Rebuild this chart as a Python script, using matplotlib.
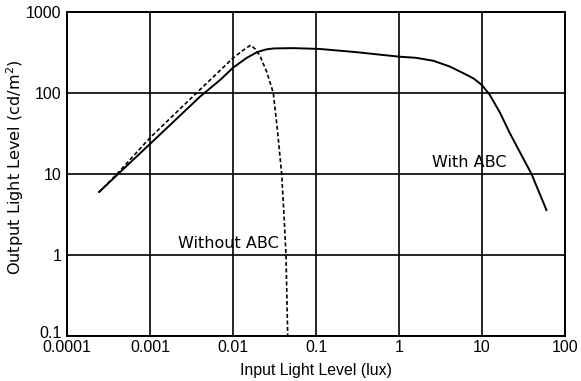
import matplotlib
matplotlib.use("Agg")
import matplotlib.pyplot as plt
from matplotlib.transforms import ScaledTranslation

# With ABC (solid)
with_x = [2.4e-4, 4e-4, 0.001, 0.004, 0.007, 0.01, 0.0145, 0.0196, 0.025, 0.031, 0.053,
          0.11, 0.3, 1.0, 1.6, 2.59, 4.1, 6.5, 8.0, 10.0, 12.3, 16.5, 21.6, 28.7, 39.5, 60.4]
with_y = [5.9, 9.7, 23.5, 90, 145, 205, 270, 320, 345, 355, 358,
          350, 320, 281, 272, 250, 212, 168, 150, 125, 96, 57, 32, 18.5, 10, 3.5]

# Without ABC (dashed)
without_x = [2.4e-4, 4e-4, 0.001, 0.004, 0.01, 0.013, 0.0163, 0.0185, 0.0211, 0.0256,
             0.0306, 0.0342, 0.0386, 0.0411, 0.0435, 0.0456]
without_y = [5.9, 10.0, 28.0, 110, 270, 333, 390, 350, 289, 180,
             100, 36, 10, 3.18, 1.0, 0.1]

x_ticks = [0.0001, 0.001, 0.01, 0.1, 1, 10, 100]
x_labels = ["0.0001", "0.001", "0.01", "0.1", "1", "10", "100"]
y_ticks = [0.1, 1, 10, 100, 1000]
y_labels = ["0.1", "1", "10", "100", "1000"]

plt.rcParams['font.family'] = ['Liberation Sans', 'DejaVu Sans']

fig = plt.figure(figsize=(5.81, 3.81), dpi=100)
ax = fig.add_axes([67/581, 1 - 336/381, (565-67)/581, (336-12)/381])

ax.plot(with_x, with_y, color='black', lw=1.4, solid_capstyle='butt', solid_joinstyle='round')
ax.plot(without_x, without_y, color='black', lw=1.2, linestyle=(0, (2.4, 1.5)))

ax.set_xscale('log')
ax.set_yscale('log')
ax.set_xlim(1e-4, 100)
ax.set_ylim(0.1, 1000)
ax.set_xticks(x_ticks)
ax.set_xticklabels(x_labels)
ax.set_yticks(y_ticks)
ax.set_yticklabels(y_labels)
ax.minorticks_off()
ax.tick_params(length=0, labelsize=11.5, colors='black')
ax.tick_params(axis='x', pad=3)
ax.tick_params(axis='y', pad=4)
ax.grid(True, which='major', color='black', lw=1.2)
for s in ax.spines.values():
    s.set_linewidth(1.4)
    s.set_color('black')

# lift the bottom y label slightly, as in the reference
lab0 = ax.get_yticklabels()[0]
lab0.set_transform(lab0.get_transform() + ScaledTranslation(0, 4/100, fig.dpi_scale_trans))

ax.set_xlabel("Input Light Level (lux)", fontsize=11.4, labelpad=6)
ylab = ax.set_ylabel("Output Light Level (cd/m$^2$)", fontsize=11.6,
                     family=['DejaVu Sans'], va='center', ha='center')
ax.yaxis.set_label_coords((15 - 67) / 498, (336 - 167) / 324)

ax.text(0.0022, 1.4, "Without ABC", fontsize=11.5, va='center', ha='left',
        family=['DejaVu Sans'])
ax.text(2.5, 13.7, "With ABC", fontsize=11.5, va='center', ha='left',
        family=['DejaVu Sans'])

fig.savefig("out.png", dpi=100)
